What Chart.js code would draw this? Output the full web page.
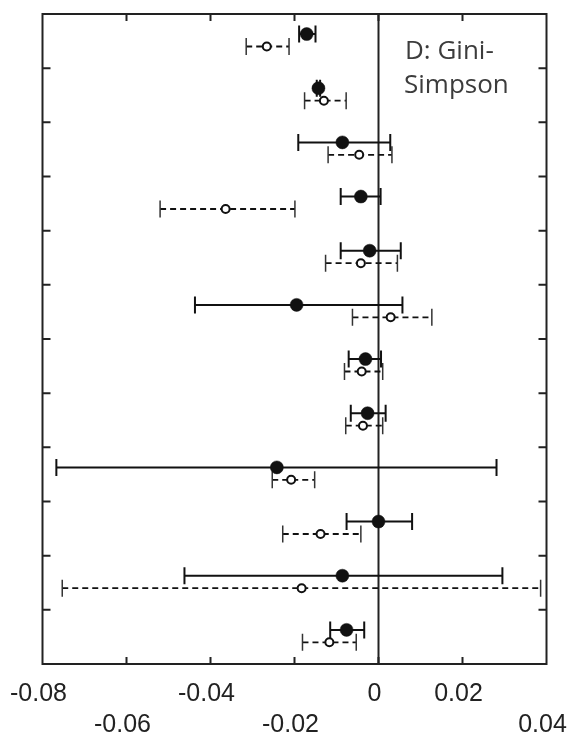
<!DOCTYPE html>
<html>
<head>
<meta charset="utf-8">
<title>D: Gini-Simpson</title>
<script src="https://cdn.jsdelivr.net/npm/chart.js@4.4.1/dist/chart.umd.min.js"></script>
<style>
  html, body { margin: 0; padding: 0; background: #fff; }
  canvas { display: block; }
</style>
</head>
<body>
<canvas id="forestChart" width="571" height="738"></canvas>
<script>
// Rows, top to bottom
const rows = [1, 2, 3, 4, 5, 6, 7, 8, 9, 10, 11, 12];

// Filled markers with solid bars
const filledValues = [-0.0171, -0.0143, -0.0086, -0.0042, -0.0021, -0.0195, -0.0031, -0.0026, -0.0242, 0.0000, -0.0086, -0.0076];
const filledLow    = [-0.0189, -0.0147, -0.0191, -0.0090, -0.0090, -0.0437, -0.0071, -0.0066, -0.0767, -0.0076, -0.0462, -0.0115];
const filledHigh   = [-0.0150, -0.0139,  0.0028,  0.0005,  0.0053,  0.0057,  0.0006,  0.0017,  0.0281,  0.0080,  0.0295, -0.0034];

// Open markers with dashed bars
const openValues = [-0.0266, -0.0130, -0.0046, -0.0364, -0.0042,  0.0029, -0.0040, -0.0037, -0.0208, -0.0138, -0.0183, -0.0117];
const openLow    = [-0.0315, -0.0176, -0.0120, -0.0520, -0.0126, -0.0062, -0.0081, -0.0078, -0.0253, -0.0228, -0.0753, -0.0181];
const openHigh   = [-0.0213, -0.0077,  0.0032, -0.0199,  0.0045,  0.0127,  0.0010,  0.0010, -0.0152, -0.0042,  0.0386, -0.0053];

const xTickLabels = ['-0.08', '-0.06', '-0.04', '-0.02', '0', '0.02', '0.04'];
const xTickLine = [0, 1, 0, 1, 0, 0, 1]; // which of the two label lines each tick uses
const panelLabel = ['D: Gini-', 'Simpson'];

const FILLED_SHIFT = -0.13; // filled point sits a little above the row centre
const OPEN_SHIFT = 0.10;    // open point a little below
const INK = '#111';

let forestChart;

// Frame, inward ticks and the panel label
const framePlugin = {
    id: 'frame',
    afterDraw(chart) {
        const ctx = chart.ctx;
        const area = chart.chartArea;
        const xScale = chart.scales.x;
        const yScale = chart.scales.y;
        ctx.save();
        ctx.strokeStyle = '#222';
        ctx.lineWidth = 2;
        ctx.beginPath();
        xScale.ticks.forEach((t, i) => {
            if (i === 0 || i === xScale.ticks.length - 1) return;
            const px = xScale.getPixelForValue(t.value);
            ctx.moveTo(px, area.bottom);
            ctx.lineTo(px, area.bottom - 7);
            ctx.moveTo(px, area.top);
            ctx.lineTo(px, area.top + 7);
        });
        yScale.ticks.forEach((t, i) => {
            if (i === 0 || i === yScale.ticks.length - 1) return;
            const py = yScale.getPixelForValue(t.value);
            ctx.moveTo(area.left, py);
            ctx.lineTo(area.left + 8, py);
            ctx.moveTo(area.right, py);
            ctx.lineTo(area.right - 8, py);
        });
        ctx.stroke();
        ctx.strokeRect(area.left, area.top, area.right - area.left, area.bottom - area.top);

        ctx.fillStyle = '#3c3c3c';
        ctx.font = '26px "Open Sans"';
        ctx.textBaseline = 'alphabetic';
        ctx.fillText(panelLabel[0], 405, 59);
        ctx.fillText(panelLabel[1], 404, 93);
        ctx.restore();
    }
};

function buildDatasets() {
    const datasets = [];

    // Markers first so they end up on top
    datasets.push({
        data: rows.map((r, i) => ({ x: filledValues[i], y: r - 0.5 + FILLED_SHIFT })),
        showLine: false,
        pointRadius: 6.5,
        pointBackgroundColor: INK,
        pointBorderColor: INK,
        pointBorderWidth: 0.5,
        order: 0
    });
    datasets.push({
        data: rows.map((r, i) => ({ x: openValues[i], y: r - 0.5 + OPEN_SHIFT })),
        showLine: false,
        pointRadius: 4,
        pointBackgroundColor: '#fff',
        pointBorderColor: INK,
        pointBorderWidth: 2,
        order: 0
    });

    // One small line per bar, caps drawn as rotated line points
    rows.forEach((r, i) => {
        const yf = r - 0.5 + FILLED_SHIFT;
        datasets.push({
            data: [{ x: filledLow[i], y: yf }, { x: filledHigh[i], y: yf }],
            showLine: true,
            borderColor: INK,
            borderWidth: 2,
            pointStyle: 'line',
            pointRotation: 90,
            pointRadius: 8.5,
            pointBorderColor: INK,
            pointBorderWidth: 2,
            order: 1
        });
        const yo = r - 0.5 + OPEN_SHIFT;
        datasets.push({
            data: [{ x: openLow[i], y: yo }, { x: openHigh[i], y: yo }],
            showLine: true,
            borderColor: INK,
            borderWidth: 1.8,
            borderDash: [6, 4],
            pointStyle: 'line',
            pointRotation: 90,
            pointRadius: 8.5,
            pointBorderColor: '#333',
            pointBorderWidth: 1.5,
            order: 1
        });
    });

    // Vertical line at zero
    datasets.push({
        data: [{ x: 0, y: 0 }, { x: 0, y: rows.length }],
        showLine: true,
        borderColor: '#222',
        borderWidth: 2,
        pointRadius: 0,
        order: 2
    });
    return datasets;
}

function createChart() {
    const ctx = document.getElementById('forestChart').getContext('2d');
    forestChart = new Chart(ctx, {
        type: 'scatter',
        data: { datasets: buildDatasets() },
        plugins: [framePlugin],
        options: {
            responsive: false,
            animation: false,
            layout: { padding: { left: 42.5, right: 24.5, top: 14, bottom: 0 } },
            plugins: {
                legend: { display: false },
                tooltip: { enabled: false }
            },
            scales: {
                x: {
                    type: 'linear',
                    min: -0.08,
                    max: 0.04,
                    border: { display: false },
                    grid: { display: false, drawTicks: false },
                    afterBuildTicks: (scale) => {
                        scale.ticks = xTickLabels.map(l => ({ value: Number(l) }));
                    },
                    afterFit: (scale) => {
                        scale.height = 74;
                        scale.paddingLeft = 0; // labels may hang over the edges
                        scale.paddingRight = 0;
                    },
                    ticks: {
                        padding: 14,
                        labelOffset: -4,
                        maxRotation: 0,
                        autoSkip: false,
                        color: '#222',
                        font: { family: '"Liberation Sans", Arial, sans-serif', size: 25, lineHeight: 1.25 },
                        // staggered labels on two lines
                        callback: (value, index) => xTickLine[index] === 0 ? [xTickLabels[index], ''] : ['', xTickLabels[index]]
                    }
                },
                y: {
                    type: 'linear',
                    min: 0,
                    max: rows.length,
                    reverse: true,
                    border: { display: false },
                    grid: { display: false, drawTicks: false },
                    ticks: { display: false, stepSize: 1 },
                    afterFit: (scale) => { scale.width = 0; }
                }
            }
        }
    });
}

createChart();
</script>
</body>
</html>
